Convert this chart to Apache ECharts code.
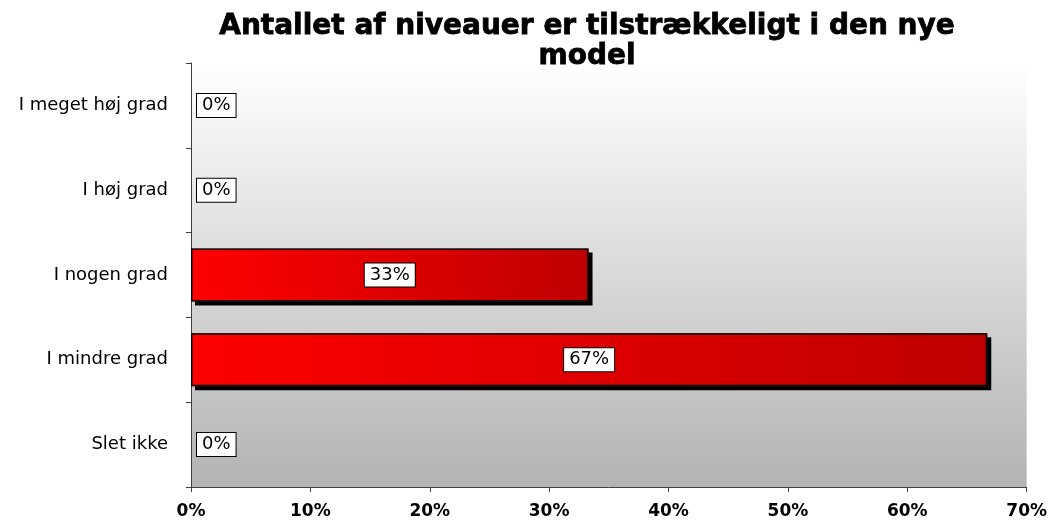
<!DOCTYPE html>
<html>
<head>
<meta charset="utf-8">
<script src="https://cdn.jsdelivr.net/npm/echarts@6/dist/echarts.min.js"></script>
<style>
  html, body { margin: 0; padding: 0; background: #fff; }
  #chart { width: 1050px; height: 520px; }
</style>
</head>
<body>
<div id="chart"></div>
<script>
// 分类（从下到上）
var categories = ["Slet ikke", "I mindre grad", "I nogen grad", "I høj grad", "I meget høj grad"];
// 百分比
var values = [0, 66.7, 33.3, 0, 0];
var valueLabels = ["0%", "67%", "33%", "0%", "0%"];

var titleText = "Antallet af niveauer er tilstrækkeligt i den nye\nmodel";

/**
 * 组装填充柱（带阴影）数据
 */
function buildFillData() {
  var data = [];
  for (var i = 0; i < values.length; i++) {
    var item = { value: values[i] };
    if (values[i] === 0) {
      item.itemStyle = { shadowColor: "rgba(0,0,0,0)" };
    }
    data.push(item);
  }
  return data;
}

/**
 * 组装边框柱（带标签）数据
 */
function buildBorderData() {
  var data = [];
  for (var i = 0; i < values.length; i++) {
    var item = { value: values[i], labelText: valueLabels[i] };
    if (values[i] === 0) {
      item.itemStyle = { borderWidth: 0 };
      item.label = { position: "right", distance: 6 };
    }
    data.push(item);
  }
  return data;
}

var options = {
  animation: false,
  title: {
    text: titleText,
    left: 582,
    textAlign: "center",
    top: 7,
    textStyle: {
      fontFamily: "DejaVu Sans",
      fontWeight: "bold",
      fontSize: 28,
      lineHeight: 30,
      color: "#000",
      textBorderColor: "#000",
      textBorderWidth: 0.8
    }
  },
  grid: {
    left: 191,
    right: 23,
    top: 63,
    bottom: 33,
    show: true,
    borderWidth: 0,
    backgroundColor: {
      type: "linear", x: 0, y: 0, x2: 0, y2: 1,
      colorStops: [
        { offset: 0, color: "#ffffff" },
        { offset: 1, color: "#b3b3b3" }
      ]
    }
  },
  xAxis: {
    type: "value",
    min: 0,
    max: 70,
    interval: 10,
    splitLine: { show: false },
    axisLine: { show: true, lineStyle: { color: "#404040", width: 1 } },
    axisTick: { show: true, length: 5, lineStyle: { color: "#404040" } },
    axisLabel: {
      formatter: "{value}%",
      fontFamily: "DejaVu Sans",
      fontWeight: "bold",
      fontSize: 17,
      color: "#000",
      margin: 16
    }
  },
  yAxis: {
    type: "category",
    data: categories,
    axisLine: { show: true, lineStyle: { color: "#404040", width: 1 } },
    axisTick: { show: true, length: 5, lineStyle: { color: "#404040" } },
    axisLabel: {
      fontFamily: "DejaVu Sans",
      fontSize: 18,
      color: "#000",
      margin: 23
    }
  },
  series: [{
    type: "bar",
    data: buildFillData(),
    barWidth: 53,
    silent: true,
    itemStyle: {
      color: {
        type: "linear", x: 0, y: 0, x2: 1, y2: 0,
        colorStops: [
          { offset: 0, color: "#ff0000" },
          { offset: 1, color: "#bf0000" }
        ]
      },
      shadowColor: "#000",
      shadowOffsetX: 4,
      shadowOffsetY: 4,
      shadowBlur: 0
    }
  }, {
    type: "bar",
    data: buildBorderData(),
    barWidth: 53,
    barGap: "-100%",
    itemStyle: {
      color: "rgba(0,0,0,0)",
      borderColor: "#000",
      borderWidth: 1.5
    },
    label: {
      show: true,
      position: "inside",
      formatter: function (p) { return p.data.labelText; },
      fontFamily: "DejaVu Sans",
      fontSize: 18,
      color: "#000",
      backgroundColor: "#fff",
      borderColor: "#000",
      borderWidth: 1,
      padding: [3, 5, 2, 5]
    }
  }]
};

var myEchart = echarts.init(document.getElementById("chart"));
myEchart.setOption(options);
</script>
</body>
</html>
